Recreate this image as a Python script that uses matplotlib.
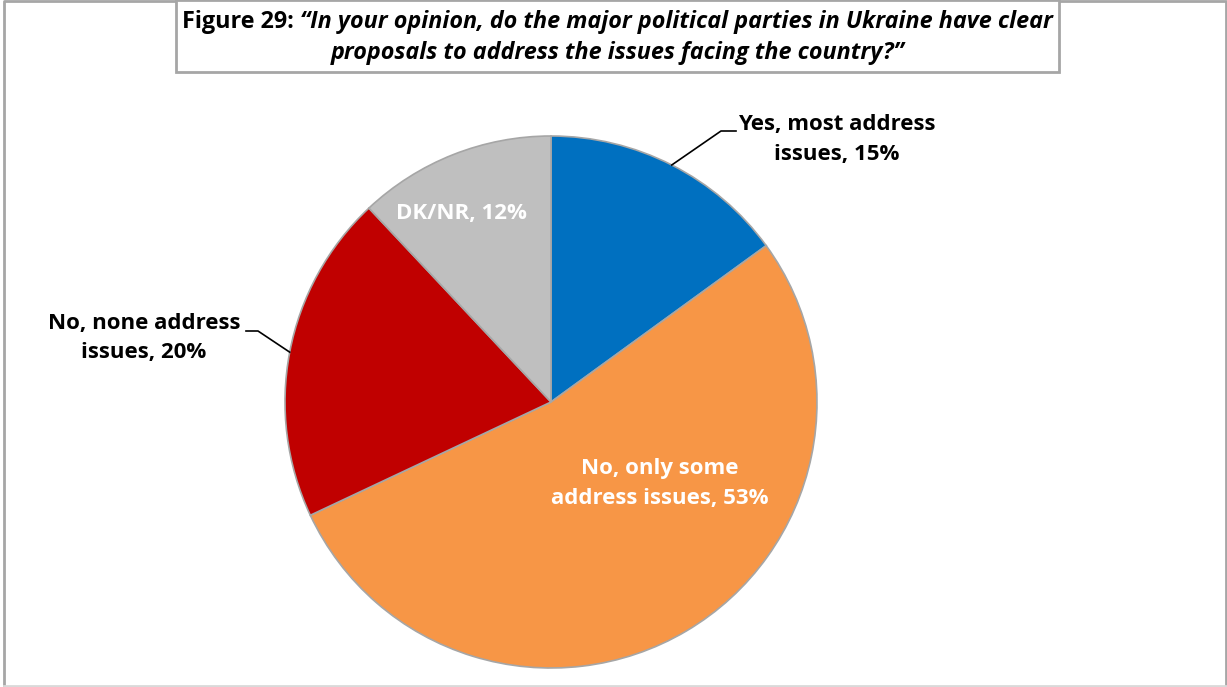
import matplotlib.pyplot as plt
import numpy as np

# survey answers, clockwise from 12 o'clock
labels = ["Yes, most address\nissues, 15%", "No, only some\naddress issues, 53%",
          "No, none address\nissues, 20%", "DK/NR, 12%"]
shares = [15, 53, 20, 12]
colors = ["#0070C0", "#F79646", "#C00000", "#BFBFBF"]

title_a = "Figure 29: "
title_b = "\u201cIn your opinion, do the major political parties in Ukraine have clear"
title_c = "proposals to address the issues facing the country?\u201d"

W, H = 1227, 687
plt.rcParams["font.family"] = ["Open Sans", "DejaVu Sans"]

fig = plt.figure(figsize=(W / 100, H / 100), dpi=100)
ax = fig.add_axes([0, 0, 1, 1])

cx, cy, r = 551, H - 402, 266
wedges, _ = ax.pie(shares, colors=colors, startangle=90, counterclock=False,
                   center=(cx, cy), radius=r,
                   wedgeprops=dict(edgecolor="#A6A6A6", linewidth=1.2))
ax.set_xlim(0, W)
ax.set_ylim(0, H)
ax.set_aspect("equal")
ax.axis("off")

# outer frame and title box
ax.plot([4, 4, W - 1.5, W - 1.5], [0, H - 0.5, H - 0.5, 0], color="#A6A6A6", lw=2, clip_on=False)
ax.plot([4, W], [1, 1], color="#D9D9D9", lw=2)
ax.add_patch(plt.Rectangle((176, H - 72), 883, 72, facecolor="white",
                           edgecolor="#A6A6A6", lw=2, zorder=3))

fs = 16.8
t1 = ax.text(0, H - 22, title_a, fontsize=fs, fontweight="bold", va="center", zorder=4)
t2 = ax.text(0, H - 22, title_b, fontsize=fs, fontweight="bold", style="italic",
             va="center", zorder=4)
ax.text(617.5, H - 53, title_c, fontsize=fs, fontweight="bold", style="italic",
        ha="center", va="center", zorder=4)
rend = fig.canvas.get_renderer()
w1 = t1.get_window_extent(rend).width
w2 = t2.get_window_extent(rend).width
x0 = 617.5 - (w1 + w2) / 2
t1.set_x(x0)
t2.set_x(x0 + w1)


def mid_point(i):
    start = 90 - 3.6 * sum(shares[:i])
    ang = np.deg2rad(start - 3.6 * shares[i] / 2)
    return cx + r * np.cos(ang), cy + r * np.sin(ang)


lab_fs = 16
ls = 1.55
# outside labels with leader lines
px, py = mid_point(0)
ax.plot([px, 721, 736], [py, H - 131, H - 131], color="black", lw=1.2)
ax.text(837, H - 139.5, labels[0], fontsize=lab_fs, fontweight="bold",
        ha="center", va="center", linespacing=ls)

px, py = mid_point(2)
ax.plot([px, 258, 246], [py, H - 331, H - 331], color="black", lw=1.2)
ax.text(144, H - 338, labels[2], fontsize=lab_fs, fontweight="bold",
        ha="center", va="center", linespacing=ls)

# inside labels
ax.text(660, H - 483.5, labels[1], fontsize=lab_fs, fontweight="bold", color="white",
        ha="center", va="center", linespacing=ls)
ax.text(461, H - 214, labels[3], fontsize=lab_fs, fontweight="bold", color="white",
        ha="center", va="center")

fig.savefig("out.png", dpi=100)
